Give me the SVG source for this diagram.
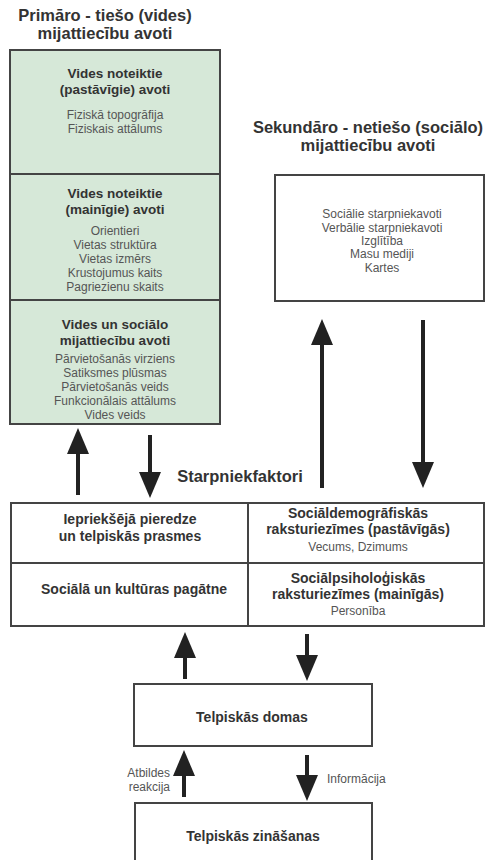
<svg xmlns="http://www.w3.org/2000/svg" width="485" height="860" viewBox="0 0 485 860">
<defs>
<style>
text{font-family:"Liberation Sans",Arial,sans-serif;fill:#333;text-anchor:middle}
.t{font-size:16.5px;font-weight:bold}
.h{font-size:13.5px;font-weight:bold}
.m{font-size:14px;font-weight:bold}
.i{font-size:12px;fill:#555}
.box{fill:#fff;stroke:#444;stroke-width:2}
.g{fill:#d6e8d8;stroke:#444;stroke-width:2}
.ln{stroke:#444;stroke-width:2;fill:none}
.ar{stroke:#222;stroke-width:4;fill:none;marker-end:url(#ah)}
</style>
<marker id="ah" markerUnits="userSpaceOnUse" markerWidth="26" markerHeight="22" refX="0" refY="11" orient="auto">
<path d="M0,0 L26,11 L0,22 Z" fill="#222"/>
</marker>
</defs>
<rect width="485" height="860" fill="#fff"/>

<g id="title-primary">
<text class="t" x="105" y="21">Primāro - tiešo (vides)</text>
<text class="t" x="105" y="39">mijattiecību avoti</text>
</g>

<g id="primary-sources">
<rect class="g" x="10" y="50" width="210" height="374"/>
<line class="ln" x1="10" y1="174" x2="220" y2="174"/>
<line class="ln" x1="10" y1="300" x2="220" y2="300"/>
</g>
<g id="fixed-sources">
<text class="h" x="115" y="78">Vides noteiktie</text>
<text class="h" x="115" y="94">(pastāvīgie) avoti</text>
<text class="i" x="115" y="119">Fiziskā topogrāfija</text>
<text class="i" x="115" y="133">Fiziskais attālums</text>
</g>
<g id="variable-sources">
<text class="h" x="115" y="198">Vides noteiktie</text>
<text class="h" x="115" y="214">(mainīgie) avoti</text>
<text class="i" x="115" y="235">Orientieri</text>
<text class="i" x="115" y="249">Vietas struktūra</text>
<text class="i" x="115" y="263">Vietas izmērs</text>
<text class="i" x="115" y="277">Krustojumus kaits</text>
<text class="i" x="115" y="291">Pagriezienu skaits</text>
</g>
<g id="env-social-sources">
<text class="h" x="115" y="329">Vides un sociālo</text>
<text class="h" x="115" y="345">mijattiecību avoti</text>
<text class="i" x="115" y="363">Pārvietošanās virziens</text>
<text class="i" x="115" y="377">Satiksmes plūsmas</text>
<text class="i" x="115" y="391">Pārvietošanās veids</text>
<text class="i" x="115" y="405">Funkcionālais attālums</text>
<text class="i" x="115" y="419">Vides veids</text>
</g>

<g id="title-secondary">
<text class="t" x="368" y="133">Sekundāro - netiešo (sociālo)</text>
<text class="t" x="368" y="151">mijattiecību avoti</text>
</g>
<g id="secondary-sources">
<rect class="box" x="275" y="175" width="209" height="126"/>
<text class="i" x="382" y="218">Sociālie starpniekavoti</text>
<text class="i" x="382" y="232">Verbālie starpniekavoti</text>
<text class="i" x="382" y="245">Izglītība</text>
<text class="i" x="382" y="258">Masu mediji</text>
<text class="i" x="382" y="272">Kartes</text>
</g>

<g id="label-mediating">
<text class="t" x="240" y="482">Starpniekfaktori</text>
</g>

<g id="mediating-factors">
<rect class="box" x="11" y="503" width="473" height="123"/>
<line class="ln" x1="248" y1="503" x2="248" y2="626"/>
<line class="ln" x1="11" y1="563" x2="484" y2="563"/>
</g>
<g id="experience">
<text class="m" x="130" y="524">Iepriekšējā pieredze</text>
<text class="m" x="130" y="541">un telpiskās prasmes</text>
</g>
<g id="sociodemographic">
<text class="m" x="358" y="518">Sociāldemogrāfiskās</text>
<text class="m" x="358" y="534">raksturiezīmes (pastāvīgās)</text>
<text class="i" x="358" y="551">Vecums, Dzimums</text>
</g>
<g id="cultural-past">
<text class="m" x="134" y="594">Sociālā un kultūras pagātne</text>
</g>
<g id="sociopsychological">
<text class="m" x="358" y="583">Sociālpsiholoģiskās</text>
<text class="m" x="358" y="599">raksturiezīmes (mainīgās)</text>
<text class="i" x="358" y="615">Personība</text>
</g>

<g id="spatial-thought">
<rect class="box" x="134" y="684" width="238" height="62"/>
<text class="m" x="252" y="722">Telpiskās domas</text>
</g>
<g id="spatial-knowledge">
<rect class="box" x="135" y="803" width="237" height="70"/>
<text class="m" x="253" y="841">Telpiskās zināšanas</text>
</g>

<g id="connectors">
<line class="ar" x1="78" y1="495" x2="78" y2="454"/>
<line class="ar" x1="150" y1="435" x2="150" y2="472"/>
<line class="ar" x1="322" y1="488" x2="322" y2="345"/>
<line class="ar" x1="423" y1="320" x2="423" y2="462"/>
<line class="ar" x1="185" y1="679" x2="185" y2="658"/>
<line class="ar" x1="307" y1="634" x2="307" y2="655"/>
<line class="ar" x1="184" y1="797" x2="184" y2="776"/>
<line class="ar" x1="307" y1="755" x2="307" y2="775"/>
<text class="i" x="170" y="777" style="text-anchor:end">Atbildes</text>
<text class="i" x="170" y="791" style="text-anchor:end">reakcija</text>
<text class="i" x="327" y="783" style="text-anchor:start">Informācija</text>
</g>
</svg>
